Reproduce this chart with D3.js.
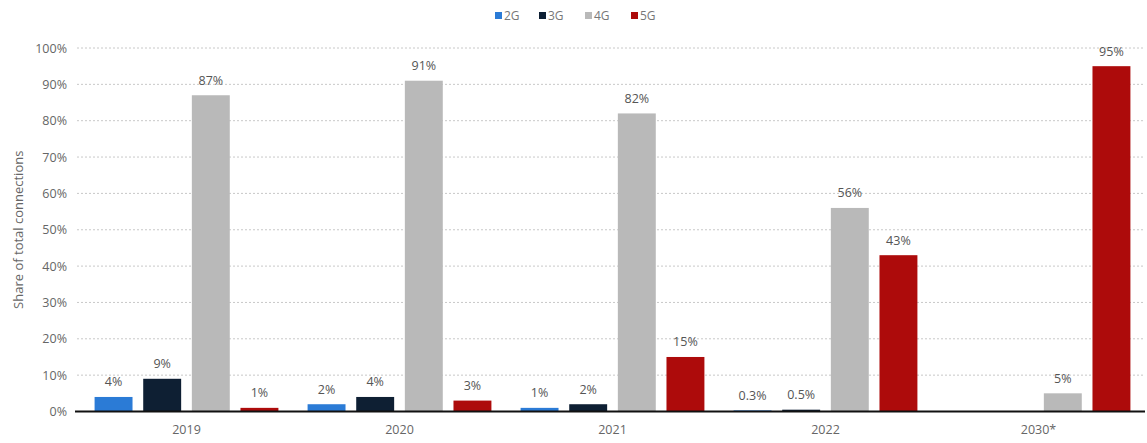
<!DOCTYPE html>
<html><head><meta charset="utf-8">
<script src="https://cdn.jsdelivr.net/npm/d3@7"></script>
<style>body{margin:0;background:#fff;} text{font-family:"Open Sans","Noto Sans",sans-serif;}</style>
</head><body>
<svg id="c" width="1147" height="443"></svg>
<script>
const categories = ["2019","2020","2021","2022","2030*"];
const seriesNames = ["2G","3G","4G","5G"];
const s2G = [4, 2, 1, 0.3, null];
const s3G = [9, 4, 2, 0.5, null];
const s4G = [87, 91, 82, 56, 5];
const s5G = [1, 3, 15, 43, 95];
const labels2G = ["4%","2%","1%","0.3%",""];
const labels3G = ["9%","4%","2%","0.5%",""];
const labels4G = ["87%","91%","82%","56%","5%"];
const labels5G = ["1%","3%","15%","43%","95%"];
const yTicks = [0,10,20,30,40,50,60,70,80,90,100];
const colors = ["#2b7bd6","#0e1f33","#b9b9b9","#ad0b0b"];

const series = [s2G,s3G,s4G,s5G];
const seriesLabels = [labels2G,labels3G,labels4G,labels5G];
const FONT = "'Open Sans','Noto Sans',sans-serif";

const svg = d3.select("#c");
const mLeft = 80, mRight = 1145, mTop = 48, mBottom = 411.5;
const x0 = d3.scaleBand().domain(categories).range([mLeft,mRight]).padding(0);
const x1 = d3.scaleBand().domain(seriesNames).range([0,x0.bandwidth()]).paddingInner(0.22).paddingOuter(0.3);
const y = d3.scaleLinear().domain([0,100]).range([mBottom,mTop]);

// gridlines
svg.append("g").selectAll("line").data(yTicks.filter(d=>d>0)).join("line")
  .attr("x1",77).attr("x2",mRight)
  .attr("y1",d=>y(d)).attr("y2",d=>y(d))
  .attr("stroke","#c8c8c8").attr("stroke-width",1).attr("stroke-dasharray","2,2");

// y axis labels
const yAxis = d3.axisLeft(y).tickValues(yTicks).tickFormat(d=>d+"%").tickSize(0).tickPadding(9);
const ya = svg.append("g").attr("transform",`translate(76,0)`).call(yAxis);
ya.select(".domain").remove();
ya.selectAll("text").attr("fill","#666").style("font-size","12.5px").style("font-family",FONT);

// y title
svg.append("text").attr("transform",`translate(23,${(mTop+mBottom)/2}) rotate(-90)`)
  .attr("text-anchor","middle").attr("fill","#666").style("font-size","13px")
  .text("Share of total connections");

// bars
const g = svg.append("g");
categories.forEach((cat,i)=>{
  seriesNames.forEach((sn,j)=>{
    const v = series[j][i];
    if(v==null) return;
    const xx = x0(cat)+x1(sn);
    g.append("rect").attr("x",xx).attr("y",y(v)).attr("width",x1.bandwidth())
      .attr("height",y(0)-y(v)).attr("fill",colors[j]);
    g.append("text").attr("x",xx+x1.bandwidth()/2).attr("y",y(v)-10.5)
      .attr("text-anchor","middle").attr("fill","#555").style("font-size","12.5px")
      .text(seriesLabels[j][i]);
  });
});

// baseline
svg.append("line").attr("x1",75).attr("x2",mRight).attr("y1",y(0)).attr("y2",y(0))
  .attr("stroke","#111").attr("stroke-width",2);

// x axis labels
const xAxis = d3.axisBottom(x0).tickSize(0).tickPadding(14);
const xa = svg.append("g").attr("transform",`translate(0,${mBottom})`).call(xAxis);
xa.select(".domain").remove();
xa.selectAll("text").attr("fill","#666").style("font-size","12.5px").style("font-family",FONT);

// legend
const legX = [495,539,585,631];
const leg = svg.append("g");
seriesNames.forEach((sn,j)=>{
  leg.append("rect").attr("x",legX[j]).attr("y",12).attr("width",7).attr("height",7).attr("fill",colors[j]);
  leg.append("text").attr("x",legX[j]+9).attr("y",20).attr("fill","#777").style("font-size","12px").text(sn);
});
</script>
</body></html>
